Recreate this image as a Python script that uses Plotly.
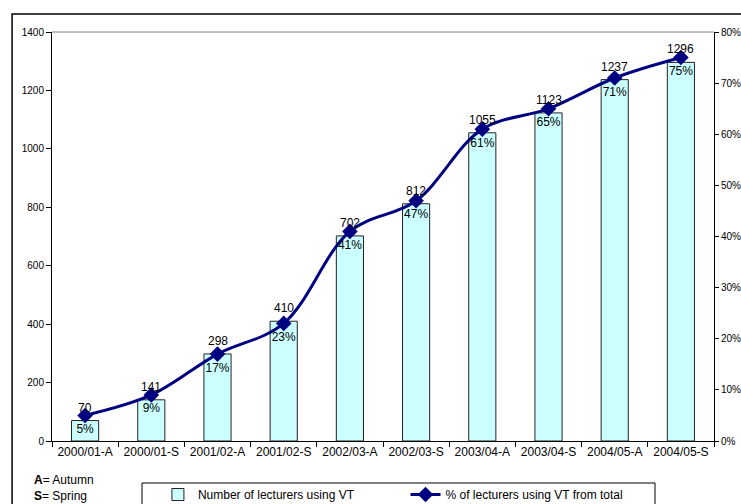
import plotly.graph_objects as go

categories = ["2000/01-A", "2000/01-S", "2001/02-A", "2001/02-S", "2002/03-A",
              "2002/03-S", "2003/04-A", "2003/04-S", "2004/05-A", "2004/05-S"]
lecturers = [70, 141, 298, 410, 702, 812, 1055, 1123, 1237, 1296]
pct = [0.05, 0.09, 0.17, 0.23, 0.41, 0.47, 0.61, 0.65, 0.71, 0.75]

FONT = "Liberation Sans, Arial, sans-serif"

fig = go.Figure()
fig.add_trace(go.Bar(
    x=categories, y=lecturers, name="Number of lecturers using VT",
    marker=dict(color="#CCFFFF", line=dict(color="#222222", width=1)),
    width=0.41, legend="legend",
))
fig.add_trace(go.Scatter(
    x=categories, y=pct, name="% of lecturers using VT from total", yaxis="y2",
    mode="lines+markers+text", line=dict(color="#000080", width=3, shape="spline", smoothing=1.0),
    marker=dict(symbol="diamond", size=12, color="#000080"),
    text=[f"{round(p*100)}%" for p in pct], textposition="bottom center",
    textfont=dict(family=FONT, size=12, color="#000000"), cliponaxis=False,
    legend="legend2",
))

bar_labels = [dict(x=c, y=v, xref="x", yref="y", text=str(v), showarrow=False,
                   yanchor="bottom", yshift=4, font=dict(size=12, color="#000000"))
              for c, v in zip(categories, lecturers)]

leg_common = dict(orientation="h", xanchor="left", yanchor="top", borderwidth=0,
                  font=dict(size=12), bgcolor="rgba(0,0,0,0)")

fig.update_layout(
    width=741, height=504,
    margin=dict(l=52, r=27, t=32, b=63, autoexpand=False),
    paper_bgcolor="white", plot_bgcolor="white",
    font=dict(family=FONT, size=10, color="#000000"),
    showlegend=True,
    xaxis=dict(range=[-0.5, 9.5], showline=True, linecolor="#000000", linewidth=1,
               ticks="outside", ticklen=5, tickcolor="#000000", tickson="boundaries",
               tickangle=0, tickfont=dict(size=12), showgrid=False, automargin=False),
    yaxis=dict(range=[0, 1400], dtick=200, showline=True, linecolor="#000000",
               linewidth=1, ticks="outside", ticklen=5, tickcolor="#000000",
               showgrid=False, zeroline=False, tickfont=dict(size=10), automargin=False),
    yaxis2=dict(range=[0, 0.8], dtick=0.1, tickformat=".0%", overlaying="y", side="right",
                showline=True, linecolor="#000000", linewidth=1, ticks="outside",
                ticklen=4, tickcolor="#000000", showgrid=False, zeroline=False,
                tickfont=dict(size=10), automargin=False),
    legend=dict(x=0.160, y=-0.0954, **leg_common),
    legend2=dict(x=0.534, y=-0.0954, **leg_common),
    shapes=[
        dict(type="line", xref="paper", yref="paper", x0=0, x1=1, y0=1, y1=1,
             line=dict(color="#808080", width=1)),
        dict(type="rect", xref="paper", yref="paper", x0=-0.0603, x1=1.05,
             y0=-0.17, y1=1.044, line=dict(color="#000000", width=1.5)),
        dict(type="rect", xref="paper", yref="paper", x0=(142 - 52) / 662, x1=(655 - 52) / 662,
             y0=-0.2, y1=(441 - 483) / 409, line=dict(color="#000000", width=1)),
    ],
    annotations=bar_labels + [
        dict(xref="paper", yref="paper", x=-0.03, y=-0.095, xanchor="left", yanchor="middle",
             text="<b>A</b>= Autumn", showarrow=False, font=dict(size=12)),
        dict(xref="paper", yref="paper", x=-0.03, y=-0.135, xanchor="left", yanchor="middle",
             text="<b>S</b>= Spring", showarrow=False, font=dict(size=12)),
    ],
)

fig.write_html("out.html", config={"displayModeBar": False},
               post_script="document.body.style.margin='0px';document.body.style.overflow='hidden';")
